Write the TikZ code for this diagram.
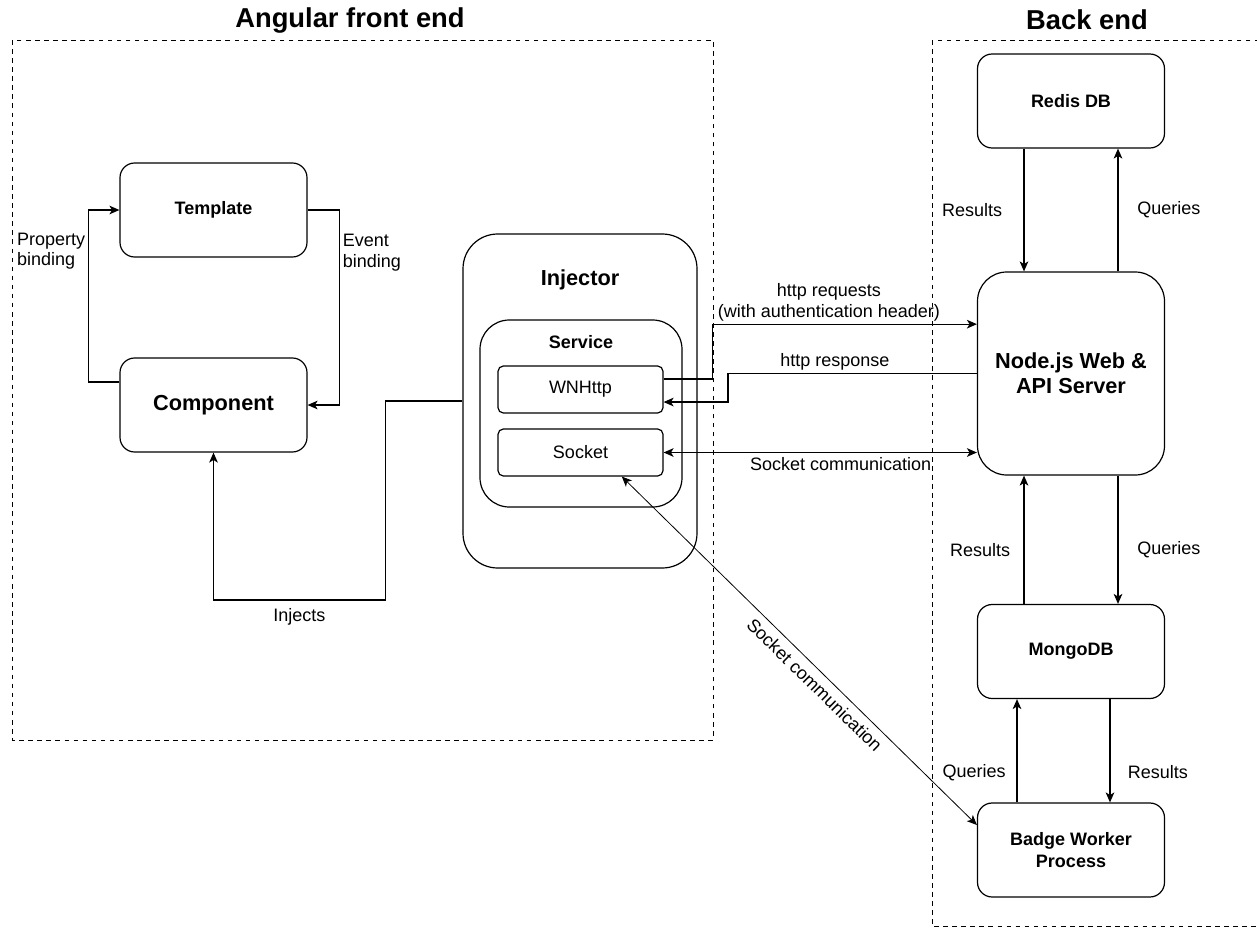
\documentclass[tikz,border=0pt]{standalone}
\usepackage{fontspec}
\setmainfont{Liberation Sans}
\usetikzlibrary{arrows.meta}

\tikzset{
  box/.style={draw, line width=0.9pt, rounded corners=11pt, minimum width=140.25pt,
    minimum height=70.5pt, align=center, font=\fontsize{13.5}{16}\selectfont\bfseries},
  bigbox/.style={box, font=\fontsize{16.3}{19}\selectfont\bfseries},
  smallbox/.style={draw, line width=0.9pt, rounded corners=4pt, minimum width=123.75pt,
    minimum height=35.25pt, font=\fontsize{13.5}{16}\selectfont},
  lbl/.style={font=\fontsize{13.5}{15.5}\selectfont, inner sep=2pt},
  zone/.style={draw, line width=0.75pt, dash pattern=on 3.4pt off 3.4pt},
  heading/.style={font=\fontsize{20.5}{24}\selectfont\bfseries},
  link/.style={line width=0.9pt},
}

\begin{document}
\begin{tikzpicture}[x=0.75pt, y=-0.75pt, >={Stealth[length=7.5pt, width=6.5pt, inset=2pt]}]

    \useasboundingbox (0,0) rectangle (1257,928);

    % the two zones
    \draw[zone] (12,40) rectangle (713,740);
    \draw[zone] (932,40) rectangle (1270,926.5);
    \node[heading] (fronttitle) at (350,20) {Angular front end};
    \node[heading] (backtitle) at (1087,20) {Back end};

    % front end
    \node[box] (tmpl) at (213.5,210) {Template};
    \node[bigbox] (comp) at (213.5,405) {Component};
    \node[draw, line width=0.9pt, rounded corners=26pt, minimum width=175.5pt, minimum height=250.5pt,
      label={[anchor=center, yshift=-35pt, font=\fontsize{16.3}{19}\selectfont\bfseries]north:Injector}]
      (inj) at (580,401) {};
    \node[draw, line width=0.9pt, rounded corners=22pt, minimum width=151.5pt, minimum height=140.25pt,
      label={[anchor=center, yshift=-17pt, font=\fontsize{13.5}{16}\selectfont\bfseries]north:Service}]
      (serv) at (581,413.5) {};
    \node[smallbox] (wn) at (580.5,389.5) {WNHttp};
    \node[smallbox] (sock) at (580.5,452.5) {Socket};

    % back end
    \node[box] (redis) at (1071,101) {Redis DB};
    \node[bigbox, rounded corners=22pt, minimum height=152.25pt] (srv) at (1071,373.5) {Node.js Web \&\\API Server};
    \node[box] (mongo) at (1071,651.5) {MongoDB};
    \node[box] (badge) at (1071,850) {Badge Worker\\Process};

    % bindings
    \draw[link, ->] ([yshift=17.25pt]comp.west) -- ++(-31,0) |- (tmpl.west)
      node[lbl, pos=0.38, left, align=left] {Property\\binding};
    \draw[link, ->] (tmpl.east) -- ++(32,0) |- (comp.east)
      node[lbl, pos=0.11, right, align=left] {Event\\binding};
    \draw[link, ->] (inj.west) -- ++(-77,0) -- ++(0,199) -| (comp.south)
      node[lbl, pos=0.25, below=4pt] {Injects};

    % http and sockets
    \draw[link, ->] ([yshift=7.9pt]wn.east) -- ++(49,0) |- ([yshift=37pt]srv.west)
      node[lbl, pos=0.72, above, align=center] {http requests\\(with authentication header)};
    \draw[link, ->] (srv.west) -- ++(-249,0) node[lbl, pos=0.57, above] {http response}
      |- ([yshift=-9.4pt]wn.east);
    \draw[link, <->] (sock.east) -- (sock.east -| srv.west)
      node[lbl, pos=0.565, below=1pt] {Socket communication};
    \draw[line width=0.6pt, <->] ([xshift=31pt]sock.south) -- ([yshift=18.75pt]badge.west)
      node[lbl, pos=0.57, sloped, below=3pt] {Socket communication};

    % databases
    \draw[link, ->] ([xshift=-35.25pt]redis.south) -- ([xshift=-35.25pt]srv.north)
      node[lbl, midway, left=14pt] {Results};
    \draw[link, ->] ([xshift=35.25pt]srv.north) -- ([xshift=35.25pt]redis.south)
      node[lbl, midway, right=12pt] {Queries};
    \draw[link, ->] ([xshift=-35.25pt]mongo.north) -- ([xshift=-35.25pt]srv.south)
      node[lbl, pos=0.42, left=8pt] {Results};
    \draw[link, ->] ([xshift=35.25pt]srv.south) -- ([xshift=35.25pt]mongo.north)
      node[lbl, pos=0.58, right=12pt] {Queries};
    \draw[link, ->] ([xshift=-40.5pt]badge.north) -- ([xshift=-40.5pt]mongo.south)
      node[lbl, pos=0.29, left=6pt] {Queries};
    \draw[link, ->] ([xshift=29.25pt]mongo.south) -- ([xshift=29.25pt]badge.north)
      node[lbl, pos=0.71, right=11pt] {Results};

\end{tikzpicture}
\end{document}
